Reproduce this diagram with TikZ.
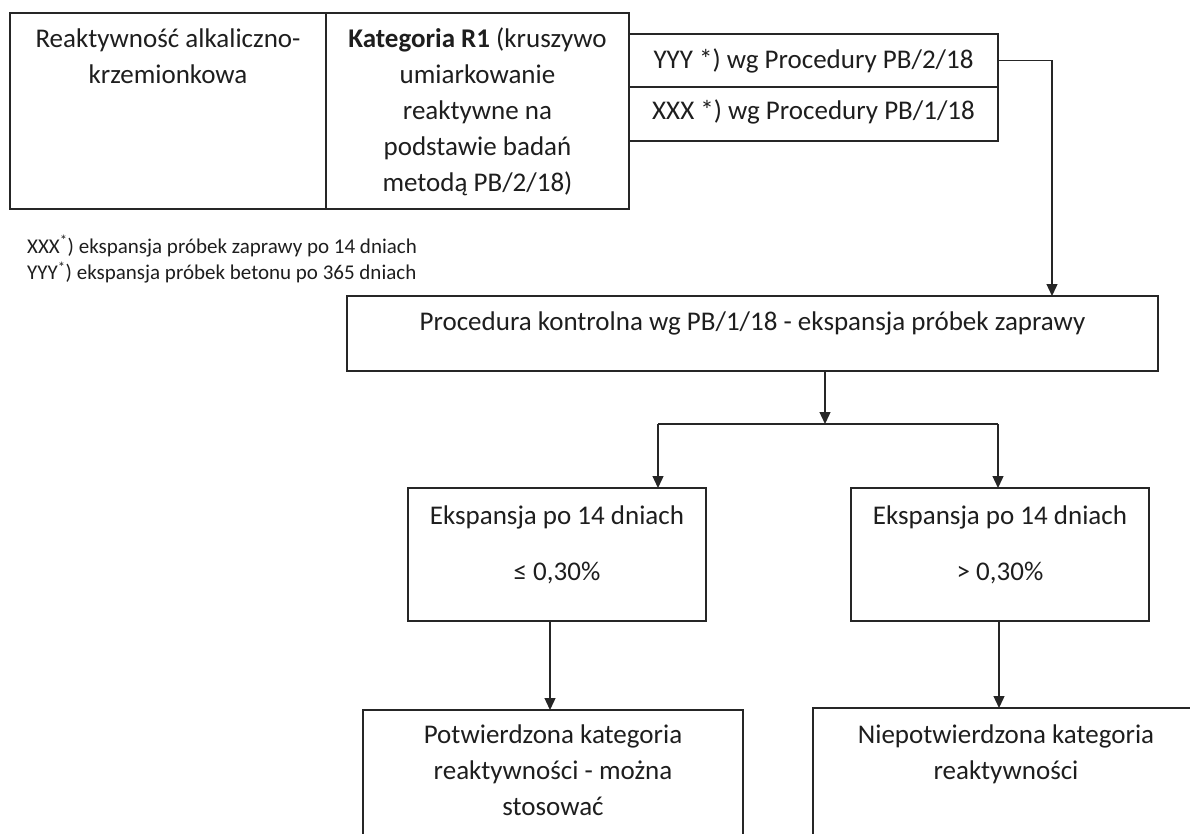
\documentclass[tikz,border=0pt]{standalone}
\usepackage{fontspec}
\setmainfont{Carlito}
\usetikzlibrary{arrows.meta}
\definecolor{linec}{HTML}{262626}
\definecolor{textc}{HTML}{1E1E1E}
\begin{document}
\begin{tikzpicture}[x=1pt,y=-1pt,
  box/.style={draw=linec, line width=1.3pt, inner sep=0pt, outer sep=0pt},
  txt/.style={font=\fontsize{27}{36}\selectfont, text=textc, align=center, inner sep=0pt, anchor=north},
  foot/.style={font=\fontsize{21}{24}\selectfont, text=textc, align=left, inner sep=0pt, anchor=north west},
  conn/.style={draw=linec, line width=1.3pt},
  arr/.style={conn, -{Triangle[width=11pt,length=12pt]}}]
\useasboundingbox (0,0) rectangle (1190,833);
\clip (0,0) rectangle (1190,833);
% boxes
\node[box, minimum width=316pt, minimum height=196pt] (c1) at (168,111) {};
\node[box, minimum width=303pt, minimum height=196pt] (c2) at (477.5,111) {};
\node[box, minimum width=369pt, minimum height=53pt] (yyy) at (813.5,60.5) {};
\node[box, minimum width=369pt, minimum height=54pt] (xxx) at (813.5,114) {};
\node[box, minimum width=811pt, minimum height=75pt] (proc) at (752.5,333.5) {};
\node[box, minimum width=298pt, minimum height=133pt] (e1) at (557,554.5) {};
\node[box, minimum width=298pt, minimum height=133pt] (e2) at (1000,554.5) {};
\node[box, minimum width=380pt, minimum height=150pt] (f1) at (553,785) {};
\node[box, minimum width=386pt, minimum height=152pt] (f2) at (1006,784) {};
% texts
\node[txt] (t1) at (168,21.8) {\strut Reaktywność alkaliczno-\\krzemionkowa};
\node[txt] (t2) at (477.5,21.8) {\strut\textbf{Kategoria R1} (kruszywo\\umiarkowanie\\reaktywne na\\podstawie badań\\metodą PB/2/18)};
\node[txt] (t3) at (813.5,42.8) {\strut YYY *) wg Procedury PB/2/18};
\node[txt] (t4) at (813.5,93.8) {\strut XXX *) wg Procedury PB/1/18};
\node[foot] (fn) at (27,235.2) {\strut XXX\textsuperscript{*}) ekspansja próbek zaprawy po 14 dniach\\YYY\textsuperscript{*}) ekspansja próbek betonu po 365 dniach};
\node[txt] (t5) at (752.5,304.8) {\strut Procedura kontrolna wg PB/1/18 - ekspansja próbek zaprawy};
\node[txt] (t6) at (557,498.8) {\strut Ekspansja po 14 dniach\\[20pt]≤ 0,30\%};
\node[txt] (t7) at (1000,498.8) {\strut Ekspansja po 14 dniach\\[20pt]> 0,30\%};
\node[txt] (t8) at (553,717.8) {\strut Potwierdzona kategoria\\reaktywności - można\\stosować};
\node[txt] (t9) at (1006,717.8) {\strut Niepotwierdzona kategoria\\reaktywności};
% connectors
\coordinate (j1) at (1052,60.5);
\coordinate (sp) at (825,424);
\coordinate (sl) at (658,424);
\coordinate (sr) at (998,424);
\draw[arr] (yyy.east) -- (j1) -- (j1 |- proc.north);
\draw[arr] (proc.south -| sp) -- (sp);
\draw[conn] (sl) -- (sr);
\draw[arr] (sl) -- (sl |- e1.north);
\draw[arr] (sr) -- (sr |- e2.north);
\draw[arr] ([xshift=-7pt]e1.south) -- ([xshift=-7pt]e1.south |- f1.north);
\draw[arr] ([xshift=-1pt]e2.south) -- ([xshift=-1pt]e2.south |- f2.north);
\end{tikzpicture}
\end{document}
